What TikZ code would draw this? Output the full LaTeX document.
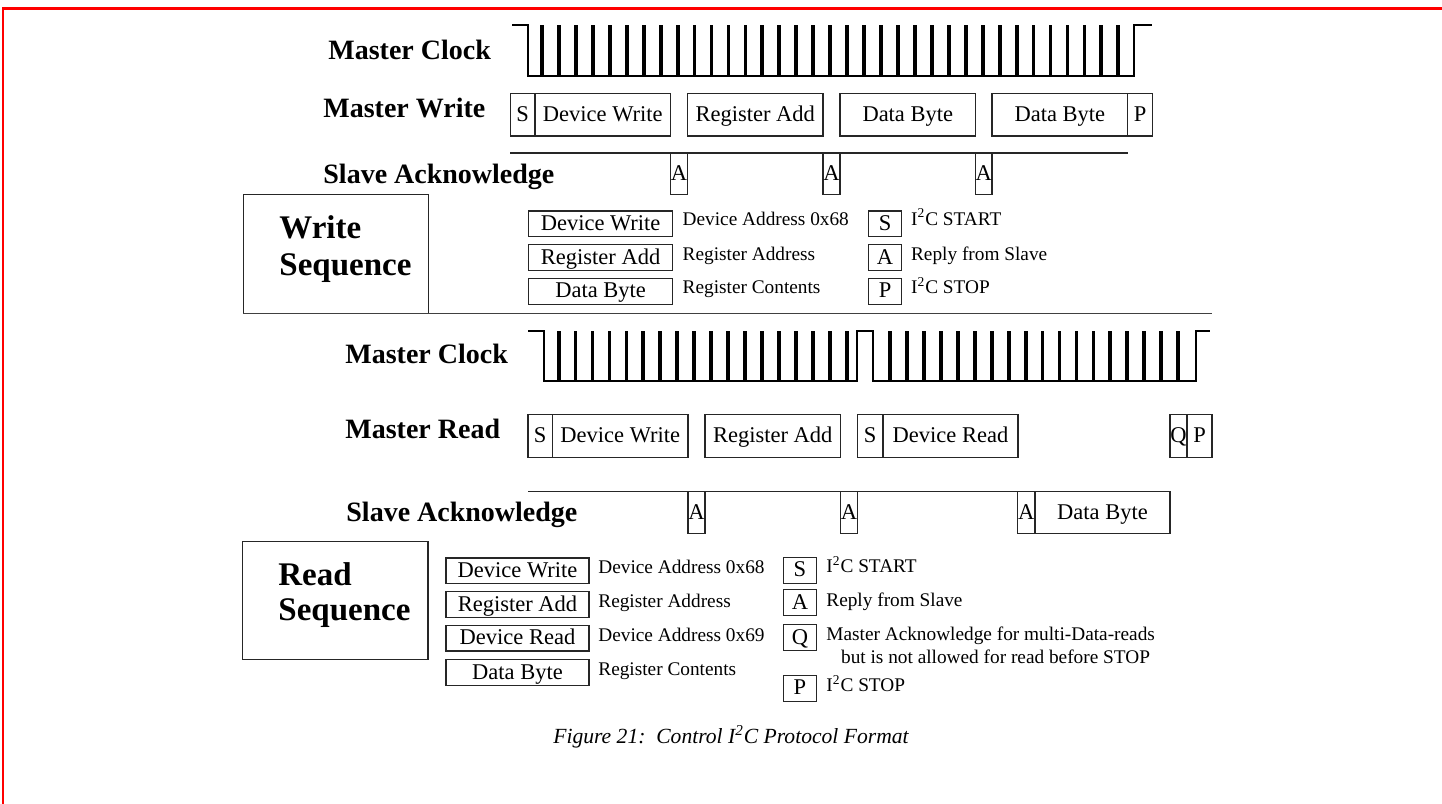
\documentclass[tikz,border=0pt]{standalone}
\usepackage{fontspec}
\setmainfont{Liberation Serif}

\begin{document}
\begin{tikzpicture}[
    x=0.5pt, y=-0.5pt,
    lbl/.style={font=\fontsize{14}{16}\selectfont\bfseries, anchor=base west, inner sep=0pt},
    seqtitle/.style={font=\fontsize{16.5}{19}\selectfont\bfseries, anchor=base west, inner sep=0pt},
    cw/.style={minimum width=#1*0.5pt},
    ch/.style={minimum height=#1*0.5pt},
    cell/.style={draw=black!85, line width=0.6pt, inner sep=0pt, font=\fontsize{11.25}{13}\selectfont, text height=0.66em, text depth=0pt},
    framecell/.style={cell, ch=42.5},
    ackcell/.style={cell, ch=41.6},
    keycell/.style={cell, ch=25.6},
    desc/.style={font=\fontsize{9.65}{11}\selectfont, anchor=base west, inner sep=0pt},
    seqbox/.style={draw=black!85, line width=0.7pt, inner sep=0pt},
    clk/.style={line width=1pt, black},
    pulse/.style={line width=1.9pt, black},
    ackline/.style={line width=0.7pt, black!85},
    sepline/.style={line width=0.8pt, black!75},
    caption/.style={font=\fontsize{10.8}{13}\selectfont\itshape, anchor=base, inner sep=0pt}
]
\useasboundingbox (0,0) rectangle (1442,804);
\fill[white] (0,0) rectangle (1442,804);
% page frame
\draw[red, line width=1.2pt] (3,900) -- (3,8.3) -- (1500,8.3);

% ---------- Write sequence ----------
% clock
\draw[clk] (512,25) -- (528,25) -- (528,76) -- (1134,76) -- (1134,25) -- (1152,25);
\foreach \k in {0,...,34}
    \draw[pulse] ({542+16.95*\k},76) -- ({542+16.95*\k},25);
% row labels
\node[lbl] (wclk) at (328,59.3) {Master Clock};
\node[lbl] (wmaster) at (323,117) {Master Write};
\node[lbl] (wslave) at (323,183.3) {Slave Acknowledge};
% master frame
\node[framecell, cw=24.6] (wS) at (522.7,114.7) {S};
\node[framecell, cw=135.5] (wdev) at (602.75,114.7) {Device Write};
\node[framecell, cw=135.5] (wreg) at (755.25,114.7) {Register Add};
\node[framecell, cw=135.6] (wdat1) at (907.8,114.7) {Data Byte};
\node[framecell, cw=135.7] (wdat2) at (1059.85,114.7) {Data Byte};
\node[framecell, cw=24.6] (wP) at (1140,114.7) {P};
% slave acknowledge
\coordinate (wackstart) at (510,153);
\coordinate (wackend) at (1128,153);
\draw[ackline] (wackstart) -- (wackend);
\node[ackcell, cw=17] (wA1) at (679,174) {A};
\node[ackcell, cw=17] (wA2) at (831.5,174) {A};
\node[ackcell, cw=16.4] (wA3) at (983.8,174) {A};
% title box
\node[seqbox, cw=185.1, ch=119] (wseq) at (336,253.8) {};
\node[seqtitle] (wseqa) at (279,238.3) {Write};
\node[seqtitle] (wseqb) at (279,275) {Sequence};
% legend
\foreach \y/\b/\n/\t/\d in {223.85/225/wkdev/Device Write/Device Address 0x68,
    257.5/260/wkreg/Register Add/Register Address,
    291.3/293.3/wkdat/Data Byte/Register Contents} {
    \node[keycell, cw=144.2] (\n) at (600.6,\y) {\t};
    \node[desc] (\n-d) at (682.3,\b) {\d};
}
\foreach \y/\b/\n/\t/\d in {223.85/225/wkS/S/I\textsuperscript{2}C START,
    257.5/260/wkA/A/Reply from Slave,
    291.3/293.3/wkP/P/I\textsuperscript{2}C STOP} {
    \node[keycell, cw=33.4] (\n) at (885,\y) {\t};
    \node[desc] (\n-d) at (910.7,\b) {\d};
}
% separator
\coordinate (sepl) at (243.4,313.3);
\coordinate (sepr) at (1212,313.3);
\draw[sepline] (sepl) -- (sepr);

% ---------- Read sequence ----------
% clock with repeated start
\draw[clk] (528,330.7) -- (544,330.7) -- (544,381) -- (857,381) -- (857,330.7) -- (873,330.7)
    -- (873,381) -- (1196,381) -- (1196,330.7) -- (1210,330.7);
\foreach \k in {0,...,17} {
    \draw[pulse] ({558.6+16.95*\k},381) -- ({558.6+16.95*\k},330.7);
    \draw[pulse] ({890+16.95*\k},381) -- ({890+16.95*\k},330.7);
}
% row labels
\node[lbl] (rclk) at (345,363.3) {Master Clock};
\node[lbl] (rmaster) at (345,438) {Master Read};
\node[lbl] (rslave) at (346,521.7) {Slave Acknowledge};
% master frame
\node[framecell, cw=24.5] (rS1) at (540.25,436) {S};
\node[framecell, cw=135.5] (rdev) at (620.25,436) {Device Write};
\node[framecell, cw=135.5] (rreg) at (772.75,436) {Register Add};
\node[framecell, cw=25.5] (rS2) at (870.25,436) {S};
\node[framecell, cw=135] (rrd) at (950.5,436) {Device Read};
\node[framecell, cw=17] (rQ) at (1178.5,436) {Q};
\node[framecell, cw=25] (rP) at (1199.5,436) {P};
% slave acknowledge
\node[ackcell, cw=17] (rA1) at (696.5,512.5) {A};
\node[ackcell, cw=17] (rA2) at (849,512.5) {A};
\node[ackcell, cw=17.3] (rA3) at (1026.35,512.5) {A};
\node[ackcell, cw=135] (rdat) at (1102.5,512.5) {Data Byte};
\coordinate (rackstart) at (528,491.7);
\draw[ackline] (rackstart) -- (rackstart -| rA3.west);
% title box
\node[seqbox, cw=185.5, ch=117.6] (rseq) at (335.25,600.5) {};
\node[seqtitle] (rseqa) at (278,585) {Read};
\node[seqtitle] (rseqb) at (278,620.7) {Sequence};
% legend
\foreach \y/\b/\n/\t/\d in {570.8/573.3/rkdev/Device Write/Device Address 0x68,
    604.5/607/rkreg/Register Add/Register Address,
    638.2/641/rkrd/Device Read/Device Address 0x69,
    672.5/675/rkdat/Data Byte/Register Contents} {
    \node[keycell, cw=143] (\n) at (517.5,\y) {\t};
    \node[desc] (\n-d) at (598,\b) {\d};
}
\foreach \y/\b/\n/\t/\d in {570.3/572.7/rkS/S/I\textsuperscript{2}C START,
    602.5/606.7/rkA/A/Reply from Slave,
    637.5/640/rkQ/Q/Master Acknowledge for multi-Data-reads,
    688.3/691.7/rkP/P/I\textsuperscript{2}C STOP} {
    \node[keycell, cw=33.4] (\n) at (800,\y) {\t};
    \node[desc] (\n-d) at (826,\b) {\d};
}
\node[desc] (rkQ-d2) at (840.7,663.3) {but is not allowed for read before STOP};

% caption
\node[caption] (cap) at (731,743) {Figure 21:\ \ Control I\textsuperscript{2}C Protocol Format};
\end{tikzpicture}
\end{document}
